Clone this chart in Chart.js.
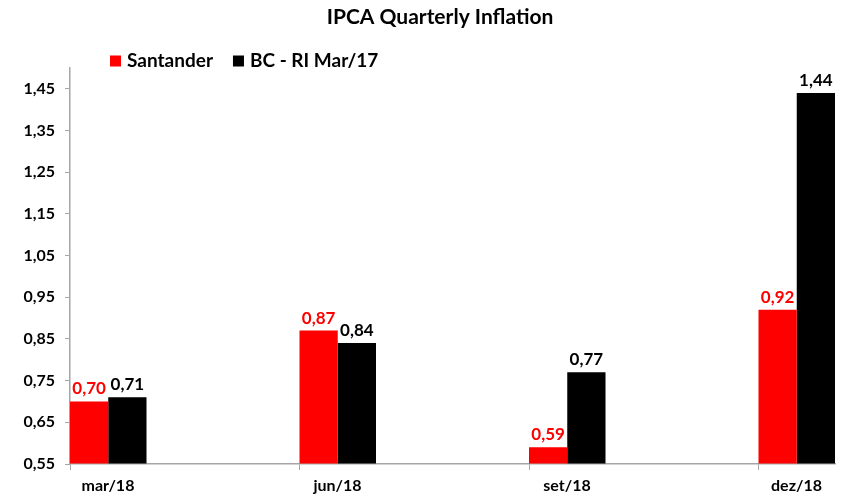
<!DOCTYPE html>
<html>
<head>
<meta charset="utf-8">
<script src="https://cdn.jsdelivr.net/npm/chart.js@4/dist/chart.umd.min.js"></script>
<style>
  html, body { margin: 0; padding: 0; background: #ffffff; }
  #wrap { width: 842px; height: 500px; }
</style>
</head>
<body>
<div id="wrap"><canvas id="c" width="842" height="500"></canvas></div>
<script>
// ---- data ----
const chartTitle = 'IPCA Quarterly Inflation';
const categories = ['mar/18', 'jun/18', 'set/18', 'dez/18'];
const seriesNames = ['Santander', 'BC - RI Mar/17'];
const santander = [0.70, 0.87, 0.59, 0.92];
const bcRi = [0.71, 0.84, 0.77, 1.44];
const yTicks = [0.55, 0.65, 0.75, 0.85, 0.95, 1.05, 1.15, 1.25, 1.35, 1.45];
const yMin = 0.55;
const yMax = 1.50;

const FONT = 'Lato, "Open Sans", "Liberation Sans", sans-serif';
const AXIS_GREY = '#a6a6a6';
const fmt = v => v.toFixed(2).replace('.', ',');

// each category occupies one unit on the x scale; the pair of bars fills the first third
const groupFrac = 1 / 3;
const toPoints = arr => arr.map((v, i) => ({ x: i + groupFrac / 2, y: v }));

const headerPlugin = {
  id: 'header',
  afterDraw(chart) {
    const ctx = chart.ctx;
    ctx.save();
    ctx.fillStyle = '#000';
    ctx.font = 'bold 21px ' + FONT;
    ctx.textAlign = 'center';
    ctx.textBaseline = 'middle';
    ctx.fillText(chartTitle, 440, 17);

    // legend
    ctx.font = 'bold 19px ' + FONT;
    ctx.textAlign = 'left';
    let x = 110;
    const y = 61;
    chart.data.datasets.forEach((ds) => {
      ctx.fillStyle = ds.backgroundColor;
      ctx.fillRect(x, y - 5.5, 11, 11);
      ctx.fillStyle = '#000';
      ctx.fillText(ds.label, x + 17, y);
      x += 17 + ctx.measureText(ds.label).width + 20;
    });
    ctx.restore();
  }
};

const valueLabels = {
  id: 'valueLabels',
  afterDatasetsDraw(chart) {
    const ctx = chart.ctx;
    ctx.save();
    ctx.font = 'bold 17px ' + FONT;
    ctx.textAlign = 'center';
    ctx.textBaseline = 'bottom';
    chart.data.datasets.forEach((ds, di) => {
      const meta = chart.getDatasetMeta(di);
      ctx.fillStyle = ds.labelColor;
      meta.data.forEach((el, i) => {
        ctx.fillText(fmt(ds.data[i].y), el.x, el.y - 4);
      });
    });
    ctx.restore();
  }
};

new Chart(document.getElementById('c'), {
  type: 'bar',
  data: {
    datasets: [
      {
        label: seriesNames[0],
        data: toPoints(santander),
        backgroundColor: '#ff0000',
        labelColor: '#ff0000',
        base: yMin,
        barPercentage: 1,
        categoryPercentage: groupFrac
      },
      {
        label: seriesNames[1],
        data: toPoints(bcRi),
        backgroundColor: '#000000',
        labelColor: '#000000',
        base: yMin,
        barPercentage: 1,
        categoryPercentage: groupFrac
      }
    ]
  },
  options: {
    responsive: false,
    animation: false,
    devicePixelRatio: 1,
    layout: { padding: { top: 68, right: 7, left: 0, bottom: 0 } },
    plugins: {
      legend: { display: false },
      title: { display: false },
      tooltip: { enabled: false }
    },
    scales: {
      x: {
        type: 'linear',
        min: 0,
        max: categories.length - 1 + groupFrac,
        offset: false,
        afterBuildTicks: s => { s.ticks = categories.map((c, i) => ({ value: i })); },
        afterFit: s => { s.height = 36; },
        grid: {
          display: true,
          drawOnChartArea: false,
          drawTicks: true,
          tickLength: 6,
          color: AXIS_GREY,
          offset: false
        },
        border: { display: true, color: AXIS_GREY, width: 1.5 },
        ticks: {
          autoSkip: false,
          maxRotation: 0,
          padding: 6,
          labelOffset: 38,
          color: '#000',
          font: { family: FONT, size: 16, weight: 'bold' },
          callback: v => categories[v]
        }
      },
      y: {
        min: yMin,
        max: yMax,
        afterBuildTicks: s => { s.ticks = yTicks.map(v => ({ value: v })); },
        afterFit: s => { s.width = 70; },
        grid: {
          display: true,
          drawOnChartArea: false,
          drawTicks: true,
          tickLength: 5,
          color: AXIS_GREY
        },
        border: { display: true, color: AXIS_GREY, width: 1.5 },
        ticks: {
          padding: 10,
          color: '#000',
          font: { family: FONT, size: 16, weight: 'bold' },
          callback: v => fmt(v)
        }
      }
    }
  },
  plugins: [valueLabels, headerPlugin]
});
</script>
</body>
</html>
